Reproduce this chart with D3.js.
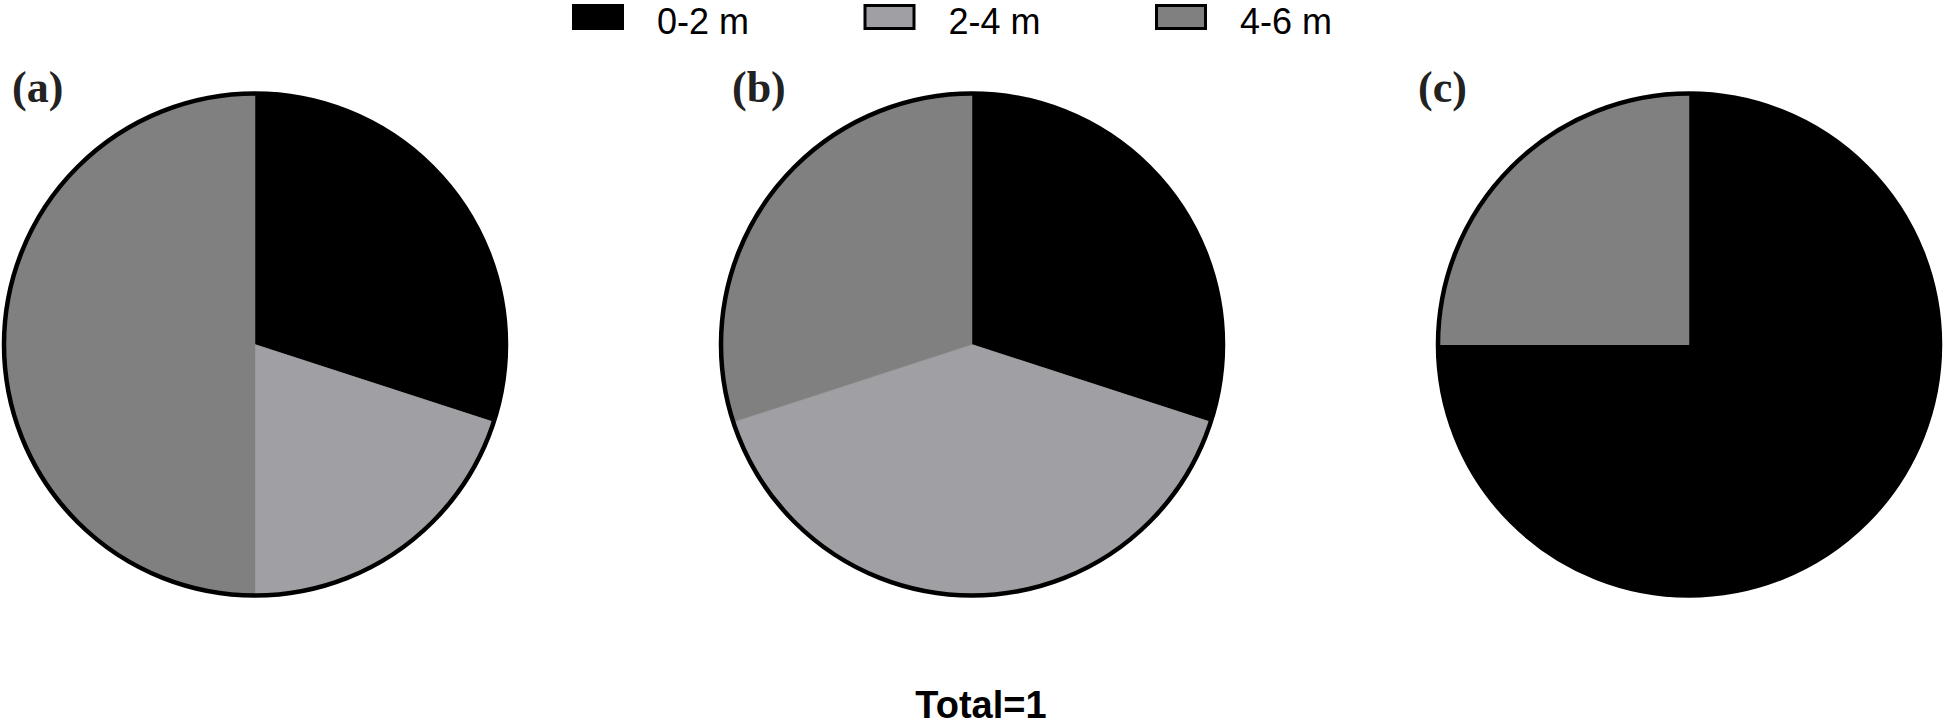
<!DOCTYPE html>
<html lang="en">
<head>
    <meta charset="UTF-8">
    <title>depth shares</title>
    <style>
        body {
            margin: 0;
            background: white;
            overflow: hidden;
        }

        .legend-label {
            font-family: "Liberation Sans", Arial, sans-serif;
            font-size: 36px;
            fill: black;
        }

        .panel-label {
            font-family: "Liberation Serif", "Times New Roman", serif;
            font-weight: bold;
            font-size: 44px;
            fill: #222;
        }

        .total-label {
            font-family: "Liberation Sans", Arial, sans-serif;
            font-weight: bold;
            font-size: 38px;
            fill: black;
        }

        .outline {
            fill: none;
            stroke: black;
            stroke-width: 4.5;
        }
    </style>
    <script src="https://d3js.org/d3.v7.min.js"></script>
</head>
<body>
    <div id="chart"></div>

    <script>
        // depth classes and their share in each panel
        const categories = ['0-2 m', '2-4 m', '4-6 m'];
        const panels = ['(a)', '(b)', '(c)'];
        const sharesA = [0.3, 0.2, 0.5];
        const sharesB = [0.3, 0.4, 0.3];
        const sharesC = [0.75, 0, 0.25];
        const totalLabel = 'Total=1';

        const width = 1946;
        const height = 726;
        const radius = 251;
        const centerY = 344.5;
        // nudge of each panel letter from the left of its pie
        const labelDx = [-243, -240, -271];

        const color = d3.scaleOrdinal()
            .domain(categories)
            .range(['#000000', '#a0a0a4', '#808080']);

        const xPos = d3.scalePoint()
            .domain(panels)
            .range([255, 1689]);

        const svg = d3.select('#chart')
            .append('svg')
            .attr('width', width)
            .attr('height', height)
            .style('display', 'block');

        // legend along the top
        const legendX = d3.scalePoint()
            .domain(categories)
            .range([572, 1155]);

        const legend = svg.append('g')
            .selectAll('g')
            .data(categories)
            .join('g')
            .attr('transform', d => `translate(${legendX(d)},0)`);

        legend.append('rect')
            .attr('x', 1.5)
            .attr('y', 5.5)
            .attr('width', 49)
            .attr('height', 23)
            .attr('fill', d => color(d))
            .attr('stroke', 'black')
            .attr('stroke-width', 3);

        legend.append('text')
            .attr('class', 'legend-label')
            .attr('x', 85)
            .attr('y', 34)
            .text(d => d);

        const pie = d3.pie()
            .sort(null)
            .value(d => d);

        const arc = d3.arc()
            .innerRadius(0)
            .outerRadius(radius);

        const panelData = [sharesA, sharesB, sharesC];

        panels.forEach((p, i) => {
            const g = svg.append('g')
                .attr('transform', `translate(${xPos(p)},${centerY})`);

            g.selectAll('path')
                .data(pie(panelData[i]))
                .join('path')
                .attr('d', arc)
                .attr('fill', (d, j) => color(categories[j]))
                .attr('stroke', (d, j) => color(categories[j]))
                .attr('stroke-width', 0.5);

            g.append('circle')
                .attr('class', 'outline')
                .attr('r', radius);

            svg.append('text')
                .attr('class', 'panel-label')
                .attr('x', xPos(p) + labelDx[i])
                .attr('y', 102)
                .text(p);
        });

        svg.append('text')
            .attr('class', 'total-label')
            .attr('x', 981)
            .attr('y', 718)
            .attr('text-anchor', 'middle')
            .text(totalLabel);
    </script>
</body>
</html>
